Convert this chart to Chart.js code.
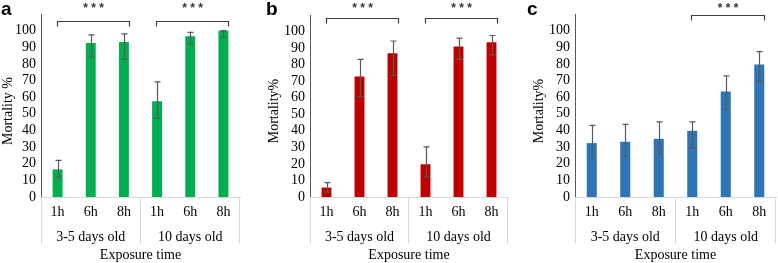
<!DOCTYPE html>
<html>
<head>
<meta charset="utf-8">
<script src="https://cdn.jsdelivr.net/npm/chart.js@4.4.1/dist/chart.umd.min.js"></script>
<style>
  html, body { margin: 0; padding: 0; background: #fff; }
  #wrap { position: relative; width: 778px; height: 263px; overflow: hidden; }
  .panel { position: absolute; top: 0; height: 263px; }
</style>
</head>
<body>
<div id="wrap">
  <div class="panel" style="left:0;width:255px"><canvas id="chartA"></canvas></div>
  <div class="panel" style="left:255px;width:260px"><canvas id="chartB"></canvas></div>
  <div class="panel" style="left:515px;width:263px"><canvas id="chartC"></canvas></div>
</div>
<script>
// categories
const categories = ['1h', '6h', '8h', '1h', '6h', '8h'];
const groups = ['3-5 days old', '10 days old'];
const xTitle = 'Exposure time';

// y axis ticks
const yMin = 0;
const yMax = 110;
const yStep = 10;
const yLastLabel = 100;

// panel a
const mortalityA = [16.6, 92.6, 93.2, 57.6, 96.6, 100];
const lowA = [12, 84, 82.8, 47.4, 92, 96];
const highA = [22, 97.4, 98, 69.2, 99, 100];
const bracketsA = [[0, 2], [3, 5]];

// panel b
const mortalityB = [5.7, 72.9, 86.9, 19.8, 90.9, 93.5];
const lowB = [3, 60.6, 73.5, 12.1, 83.2, 85.9];
const highB = [8.7, 83.2, 94.3, 30.3, 96, 97.6];
const bracketsB = [[0, 2], [3, 5]];

// panel c
const mortalityC = [32.4, 33.2, 35, 39.8, 63.4, 79.6];
const lowC = [23.6, 24.4, 26, 29.6, 52.6, 69.8];
const highC = [43, 43.6, 45.2, 45.2, 72.8, 87.4];
const bracketsC = [[3, 5]];

const serif = "'Liberation Serif', 'Times New Roman', serif";
const sans = "'Liberation Sans', Arial, sans-serif";

const extras = {
    id: 'extras',
    afterDatasetsDraw(chart, args, opts) {
        // error bars
        const ctx = chart.ctx;
        const meta = chart.getDatasetMeta(0);
        const y = chart.scales.y;
        ctx.save();
        ctx.strokeStyle = '#595959';
        ctx.lineWidth = 1.2;
        meta.data.forEach((bar, i) => {
            const x = Math.round(bar.x) + 0.5;
            const yl = y.getPixelForValue(opts.low[i]);
            const yh = y.getPixelForValue(opts.high[i]);
            ctx.beginPath();
            ctx.moveTo(x, yl); ctx.lineTo(x, yh);
            ctx.moveTo(x - 3, yl); ctx.lineTo(x + 3, yl);
            ctx.moveTo(x - 3, yh); ctx.lineTo(x + 3, yh);
            ctx.stroke();
        });
        ctx.restore();
    },
    afterDraw(chart, args, opts) {
        const ctx = chart.ctx;
        const area = chart.chartArea;
        const xs = chart.scales.x;
        const meta = chart.getDatasetMeta(0);
        ctx.save();

        // table lines under the category axis
        ctx.strokeStyle = '#d9d9d9';
        ctx.lineWidth = 1;
        const step = (area.right - area.left) / categories.length;
        [area.left, area.left + step * 3, area.right].forEach((lx, k) => {
            const px = Math.round(lx) + (k === 0 ? 0.5 : -0.5);
            ctx.beginPath();
            ctx.moveTo(px, area.bottom);
            ctx.lineTo(px, 244);
            ctx.stroke();
        });

        // group labels and axis title
        ctx.fillStyle = '#000';
        ctx.textAlign = 'center';
        ctx.textBaseline = 'middle';
        ctx.font = '14px ' + serif;
        groups.forEach((g, k) => {
            const cx = (xs.getPixelForValue(k * 3) + xs.getPixelForValue(k * 3 + 2)) / 2;
            ctx.fillText(g, cx, 237);
        });
        ctx.fillText(xTitle, (area.left + area.right) / 2, 255);

        // y title
        ctx.save();
        ctx.translate(opts.titleX, 111);
        ctx.rotate(-Math.PI / 2);
        ctx.fillText(opts.yTitle, 0, 0);
        ctx.restore();

        // panel letter
        ctx.font = 'bold 19px ' + sans;
        ctx.textAlign = 'left';
        ctx.textBaseline = 'alphabetic';
        ctx.fillText(opts.letter, opts.letterX, 15);

        // significance brackets
        ctx.strokeStyle = '#404040';
        ctx.lineWidth = 1.2;
        opts.brackets.forEach(([a, b]) => {
            const x1 = Math.round(meta.data[a].x - 1) + 0.5;
            const x2 = Math.round(meta.data[b].x + 5) + 0.5;
            const by = opts.bracketY + 0.5;
            ctx.beginPath();
            ctx.moveTo(x1, by + 5);
            ctx.lineTo(x1, by);
            ctx.lineTo(x2, by);
            ctx.lineTo(x2, by + 5);
            ctx.stroke();
            ctx.fillStyle = '#333';
            ctx.font = 'bold 12px ' + sans;
            ctx.textAlign = 'center';
            ctx.fillText('* * *', (x1 + x2) / 2, 12);
        });
        ctx.restore();
    }
};

function makePanel(id, values, low, high, brackets, color, cfg) {
    new Chart(document.getElementById(id), {
        type: 'bar',
        data: {
            labels: categories,
            datasets: [{
                data: values,
                backgroundColor: color,
                borderWidth: 0,
                barPercentage: 0.3,
                categoryPercentage: 1
            }]
        },
        options: {
            responsive: true,
            maintainAspectRatio: false,
            animation: false,
            layout: {
                padding: { left: 0, right: cfg.padRight, top: cfg.padTop, bottom: 0 }
            },
            plugins: {
                legend: { display: false },
                tooltip: { enabled: false },
                extras: {
                    low: low,
                    high: high,
                    brackets: brackets,
                    bracketY: cfg.bracketY,
                    yTitle: cfg.yTitle,
                    titleX: cfg.titleX,
                    letter: cfg.letter,
                    letterX: cfg.letterX
                }
            },
            scales: {
                x: {
                    offset: true,
                    grid: { display: false, drawTicks: false },
                    border: { display: true, color: '#d9d9d9', width: 1 },
                    ticks: {
                        color: '#000',
                        font: { family: serif, size: 14 },
                        padding: 7,
                        maxRotation: 0,
                        autoSkip: false
                    },
                    afterFit: function(scale) { scale.height = 66; }
                },
                y: {
                    min: yMin,
                    max: yMax,
                    grid: { display: false, drawTicks: false },
                    border: { display: true, color: '#595959', width: 1 },
                    ticks: {
                        stepSize: yStep,
                        autoSkip: false,
                        color: '#000',
                        padding: 5,
                        font: { family: serif, size: 14 },
                        callback: function(value) {
                            return value > yLastLabel ? '' : value;
                        }
                    },
                    afterFit: function(scale) { scale.width = cfg.axisX; }
                }
            }
        },
        plugins: [extras]
    });
}

makePanel('chartA', mortalityA, lowA, highA, bracketsA, '#00B050',
    { padRight: 15, padTop: 14, axisX: 41, bracketY: 21, yTitle: 'Mortality %', titleX: 8, letter: 'a', letterX: 1 });
makePanel('chartB', mortalityB, lowB, highB, bracketsB, '#C00000',
    { padRight: 7, padTop: 15, axisX: 55, bracketY: 18, yTitle: 'Mortality%', titleX: 19, letter: 'b', letterX: 11 });
makePanel('chartC', mortalityC, lowC, highC, bracketsC, '#2E75B6',
    { padRight: 2, padTop: 14, axisX: 60, bracketY: 15, yTitle: 'Mortality%', titleX: 24, letter: 'c', letterX: 12 });
</script>
</body>
</html>
